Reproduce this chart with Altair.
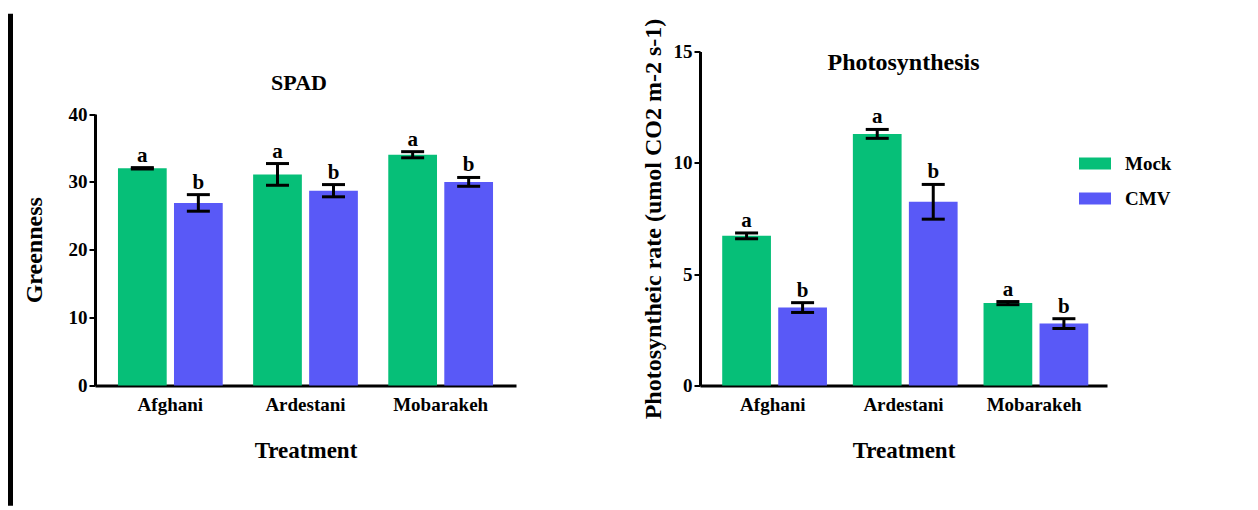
import altair as alt
import pandas as pd

cultivars = ["Afghani", "Ardestani", "Mobarakeh"]
groups = ["Mock", "CMV"]
colors = ["#06BF78", "#5959F7"]

spad_mock = [32.0, 31.1, 34.0]
spad_mock_err = [0.1, 1.6, 0.45]
spad_cmv = [26.9, 28.7, 30.0]
spad_cmv_err = [1.22, 0.9, 0.65]

photo_mock = [6.72, 11.3, 3.7]
photo_mock_err = [0.13, 0.2, 0.07]
photo_cmv = [3.5, 8.25, 2.78]
photo_cmv_err = [0.22, 0.78, 0.22]

letters_mock = ["a", "a", "a"]
letters_cmv = ["b", "b", "b"]

FONT = "Liberation Serif"


def make_df(mock, mock_err, cmv, cmv_err):
    rows = []
    for i, c in enumerate(cultivars):
        rows.append({"Treatment": c, "Group": "Mock", "Mean": mock[i],
                     "Lo": mock[i] - mock_err[i], "Hi": mock[i] + mock_err[i],
                     "Letter": letters_mock[i]})
        rows.append({"Treatment": c, "Group": "CMV", "Mean": cmv[i],
                     "Lo": cmv[i] - cmv_err[i], "Hi": cmv[i] + cmv_err[i],
                     "Letter": letters_cmv[i]})
    return pd.DataFrame(rows)


def panel(df, width, title, title_x, title_y, title_size, ytitle, ymax, yvals,
          yrange, ytitle_pad, legend, extra=None):
    x = alt.X("Treatment:N", sort=cultivars,
              scale=alt.Scale(paddingInner=0.225, paddingOuter=0.17),
              axis=alt.Axis(title="Treatment", labelAngle=0, ticks=False, tickSize=0,
                            labelPadding=10, titleFontSize=23, titlePadding=25))
    xo = alt.XOffset("Group:N", sort=groups, scale=alt.Scale(paddingInner=0.13))
    if yrange is not None:
        ysc = alt.Scale(domain=[0, ymax], range=yrange, nice=False, zero=True)
    else:
        ysc = alt.Scale(domain=[0, ymax], nice=False, zero=True)
    y = alt.Y("Mean:Q", scale=ysc,
              axis=alt.Axis(title=ytitle, values=yvals, tickSize=6, tickWidth=2,
                            labelPadding=2, titleFontSize=24,
                            titlePadding=ytitle_pad))
    color = alt.Color("Group:N", scale=alt.Scale(domain=groups, range=colors),
                      legend=legend)
    base = alt.Chart(df)
    bars = base.mark_bar(opacity=1).encode(x=x, xOffset=xo, y=y, color=color)
    rule = base.mark_rule(strokeWidth=3, color="black").encode(
        x=x, xOffset=xo, y=alt.Y("Lo:Q"), y2="Hi:Q")
    tlo = base.mark_tick(size=23, thickness=3, color="black", opacity=1).encode(
        x=x, xOffset=xo, y=alt.Y("Lo:Q"))
    thi = base.mark_tick(size=23, thickness=3, color="black", opacity=1).encode(
        x=x, xOffset=xo, y=alt.Y("Hi:Q"))
    txt = base.mark_text(baseline="alphabetic", dy=-6, fontSize=21, font=FONT,
                         fontWeight="bold", color="black").encode(
        x=x, xOffset=xo, y=alt.Y("Hi:Q"), text="Letter:N")
    ttl = alt.Chart(pd.DataFrame({"t": [title]})).mark_text(
        fontSize=title_size, font=FONT, fontWeight="bold", color="black",
        baseline="middle", align="center").encode(
        x=alt.value(title_x), y=alt.value(title_y), text="t:N")
    layers = [bars, rule, tlo, thi, txt, ttl]
    if extra is not None:
        layers.append(extra)
    return alt.layer(*layers).properties(
        width=width, height=334,
        view=alt.ViewBackground(stroke="transparent", strokeWidth=0))


spad_df = make_df(spad_mock, spad_mock_err, spad_cmv, spad_cmv_err)
photo_df = make_df(photo_mock, photo_mock_err, photo_cmv, photo_cmv_err)

border = alt.Chart(pd.DataFrame({"k": [0]})).mark_rule(
    strokeWidth=5, color="black", strokeCap="butt").encode(
    x=alt.value(-84.5), y=alt.value(-37.7), y2=alt.value(454.3))

left = panel(spad_df, 421, "SPAD", 204, 31, 22, "Greenness", 40,
             [0, 10, 20, 30, 40], [334, 62.5], 22, None, extra=border)

legend = alt.Legend(title=None, orient="none", legendX=379, legendY=96,
                    symbolType="M-1,-0.375H1V0.375H-1Z", symbolSize=1024,
                    symbolStrokeWidth=0, symbolOpacity=1,
                    labelFontSize=19, labelFont=FONT, labelFontWeight="bold",
                    labelColor="black", labelOffset=14, rowPadding=9, padding=0)

right = panel(photo_df, 407, "Photosynthesis", 203.5, 11.5, 24,
              "Photosyntheic rate (umol CO2 m-2 s-1)", 15, [0, 5, 10, 15],
              None, 8, legend)

chart = alt.hconcat(left, right, spacing=125).resolve_scale(
    color="independent", y="independent", x="independent"
).properties(
    padding={"left": 0, "top": 2.5, "right": 5, "bottom": 0}
).configure_view(stroke="transparent", strokeWidth=0).configure(
    font=FONT
).configure_axis(
    labelFont=FONT, labelFontWeight="bold", labelFontSize=19, labelColor="black",
    titleFont=FONT, titleFontWeight="bold", titleColor="black",
    domainColor="black", domainWidth=3, tickColor="black", grid=False
)

chart.save("out.html", embed_options={"renderer": "svg", "actions": False})
